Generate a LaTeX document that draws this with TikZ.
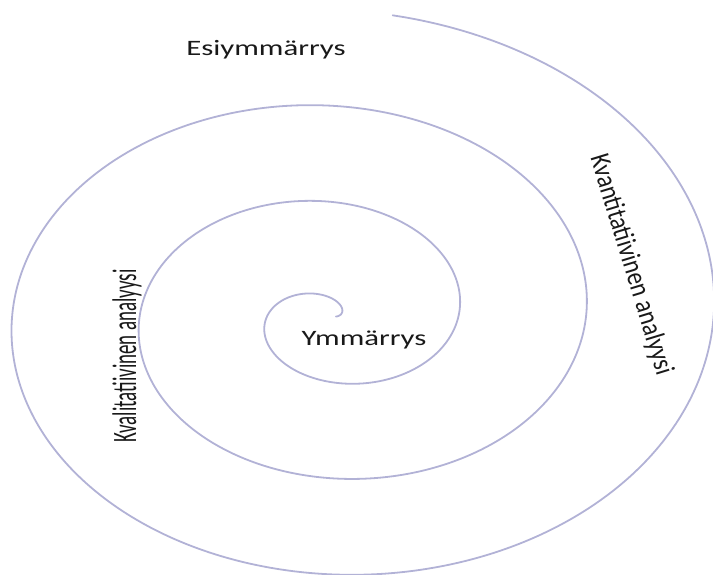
\documentclass[tikz,border=0pt]{standalone}
\usepackage{fontspec}
\setmainfont{Carlito}
\definecolor{spiral}{RGB}{178,178,214}
\definecolor{txt}{RGB}{25,25,25}
\tikzset{
  lbl/.style={inner sep=0pt, text=txt, font=\fontsize{22}{26}\selectfont, transform shape},
  spiralline/.style={draw=spiral, line width=1.8pt, line cap=round}
}
\begin{document}
\begin{tikzpicture}[x=1pt,y=-1pt]
\useasboundingbox (0,0) rectangle (713,574);
\draw[spiralline] plot[domain=0.25:20.27, samples=700, smooth, variable=\t]
  ({331 + 20.3*\t*cos(\t r)}, {316 - (15.3*\t - 6)*sin(\t r)});
\node[lbl, xscale=1.4] (esi) at (266,50) {Esiymmärrys};
\node[lbl, xscale=1.4] (ymm) at (364,340) {Ymmärrys};
\node[lbl, rotate=90, yscale=1.8, font=\fontsize{19}{22}\selectfont] (kval) at (127,356) {Kvalitatiivinen analyysi};
\node[lbl, rotate=-73, yscale=1.2, font=\fontsize{23.5}{28}\selectfont] (kvan) at (631,265) {Kvantitatiivinen analyysi};
\end{tikzpicture}
\end{document}
